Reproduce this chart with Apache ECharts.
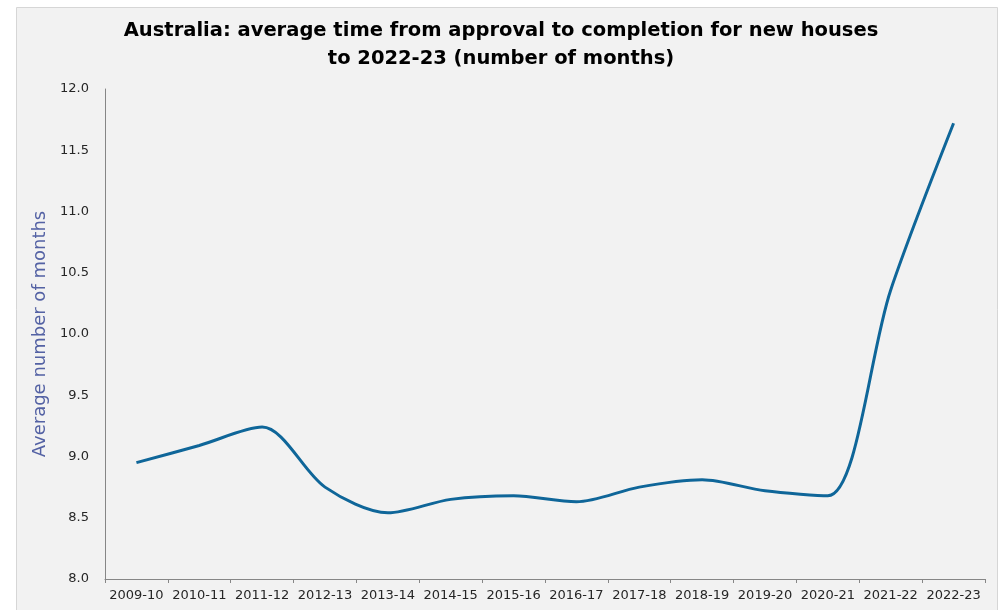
<!DOCTYPE html>
<html>
<head>
<meta charset="utf-8">
<script src="https://cdn.jsdelivr.net/npm/echarts@6/dist/echarts.min.js"></script>
<style>
  html, body { margin: 0; padding: 0; background: #ffffff; }
  #chart { width: 1002px; height: 610px; }
</style>
</head>
<body>
<div id="chart"></div>
<script>
// financial years on the x axis
const years = ['2009-10', '2010-11', '2011-12', '2012-13', '2013-14', '2014-15', '2015-16',
  '2016-17', '2017-18', '2018-19', '2019-20', '2020-21', '2021-22', '2022-23']
// average months from approval to completion
const months = [8.95, 9.09, 9.24, 8.75, 8.54, 8.65, 8.68, 8.63, 8.75, 8.81, 8.72, 8.68, 10.36, 11.72]
const yTicks = { min: 8, max: 12, step: 0.5 }

const font = 'DejaVu Sans'
var myChart = echarts.init(document.getElementById('chart'))
var option = {
  backgroundColor: '#ffffff',
  animation: false,
  graphic: [
    {
      type: 'rect',
      z: -10,
      silent: true,
      shape: { x: 16.5, y: 7.5, width: 981, height: 640 },
      style: { fill: '#f2f2f2', stroke: '#d6d6d6', lineWidth: 1 }
    }
  ],
  title: {
    text: 'Australia: average time from approval to completion for new houses\nto 2022-23 (number of months)',
    left: 'center',
    top: 12,
    textStyle: {
      fontFamily: font,
      fontSize: 19.5,
      fontWeight: 'bold',
      color: '#000000',
      lineHeight: 28
    }
  },
  grid: { left: 105, right: 17, top: 89, bottom: 31 },
  xAxis: {
    type: 'category',
    data: years,
    boundaryGap: true,
    axisLine: { lineStyle: { color: '#868686', width: 1 } },
    axisTick: { show: true, length: 4, lineStyle: { color: '#868686' } },
    axisLabel: { interval: 0, fontFamily: font, fontSize: 13, color: '#262626', margin: 10 }
  },
  yAxis: {
    type: 'value',
    min: yTicks.min,
    max: yTicks.max,
    interval: yTicks.step,
    name: 'Average number of months',
    nameLocation: 'middle',
    nameGap: 55,
    nameTextStyle: { fontFamily: font, fontSize: 18, color: '#5462a4' },
    axisLine: { show: true, lineStyle: { color: '#868686', width: 1 } },
    axisTick: { show: false },
    splitLine: { show: false },
    axisLabel: {
      fontFamily: font,
      fontSize: 13,
      color: '#262626',
      margin: 16,
      formatter: function (v) { return v.toFixed(1) }
    }
  },
  series: [
    {
      type: 'line',
      data: months,
      smooth: 0.3,
      symbol: 'none',
      lineStyle: { color: '#0f6699', width: 3 }
    }
  ]
}
option && myChart.setOption(option)
</script>
</body>
</html>
